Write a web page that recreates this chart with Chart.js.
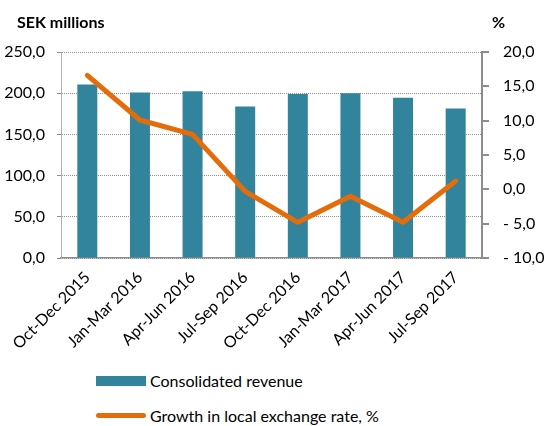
<!DOCTYPE html>
<html>
<head>
<meta charset="utf-8">
<script src="https://cdn.jsdelivr.net/npm/chart.js@4/dist/chart.umd.min.js"></script>
<style>
    body { margin: 0; background: #fff; font-family: Lato, sans-serif; }
    #wrap { position: relative; width: 546px; height: 426px; }
    #chart { position: absolute; left: 0; top: 0; }
    .axis-title { position: absolute; top: 12px; font-weight: bold; font-size: 16px; color: #000; }
    .legend-row { position: absolute; left: 96px; font-size: 16px; color: #000; display: flex; align-items: center; }
    .swatch-bar { width: 50px; height: 10px; background: #31849b; margin-right: 4px; }
    .swatch-line { width: 50px; height: 5px; border-radius: 3px; background: #e46c0a; margin-right: 4px; }
</style>
</head>
<body>
<div id="wrap">
    <canvas id="chart" width="546" height="360"></canvas>
    <div class="axis-title" style="left:17px;">SEK millions</div>
    <div class="axis-title" style="left:492px;">%</div>
    <div class="legend-row" style="top:371px;"><div class="swatch-bar"></div>Consolidated revenue</div>
    <div class="legend-row" style="top:406px;"><div class="swatch-line"></div>Growth in local exchange rate, %</div>
</div>
<script>
var quarters = ['Oct-Dec 2015', 'Jan-Mar 2016', 'Apr-Jun 2016', 'Jul-Sep 2016',
    'Oct-Dec 2016', 'Jan-Mar 2017', 'Apr-Jun 2017', 'Jul-Sep 2017'];
var revenue = [210.5, 201, 202.5, 184, 199, 200, 194.5, 181.5];
var growth = [16.6, 10.1, 8.0, -0.3, -4.8, -1.0, -4.8, 1.2];

function fmt(v) {
    var s = Math.abs(v).toFixed(1).replace('.', ',');
    return v < 0 ? '- ' + s : s;
}

var ctx = document.getElementById('chart').getContext('2d');
var chart = new Chart(ctx, {
    type: 'bar',
    data: {
        labels: quarters,
        datasets: [
            {
                type: 'line',
                label: 'Growth in local exchange rate, %',
                data: growth,
                yAxisID: 'y2',
                borderColor: '#e46c0a',
                borderWidth: 5,
                borderCapStyle: 'round',
                borderJoinStyle: 'round',
                pointRadius: 0,
                tension: 0,
                order: 0
            },
            {
                label: 'Consolidated revenue',
                data: revenue,
                yAxisID: 'y',
                backgroundColor: '#31849b',
                barPercentage: 0.38,
                categoryPercentage: 1,
                order: 1
            }
        ]
    },
    options: {
        responsive: false,
        animation: false,
        layout: { padding: { top: 52, left: 0, right: 0, bottom: 0 } },
        plugins: { legend: { display: false }, tooltip: { enabled: false } },
        scales: {
            x: {
                grid: { display: false },
                border: { color: '#8c8c8c', width: 1.5 },
                ticks: {
                    color: '#000', font: { family: 'Lato', size: 16 },
                    minRotation: 45, maxRotation: 45, padding: 2
                },
                afterFit: function (s) { s.height = 102; }
            },
            y: {
                position: 'left',
                min: 0, max: 250,
                ticks: {
                    stepSize: 50, color: '#000', font: { family: 'Lato', size: 16 },
                    padding: 12, callback: function (v) { return fmt(v); }
                },
                grid: { color: '#909090', tickLength: 4, lineWidth: 1 },
                border: { color: '#b0b0b0', width: 1, dash: [1, 1] },
                afterFit: function (s) { s.width = 61; }
            },
            y2: {
                position: 'right',
                min: -10, max: 20,
                ticks: {
                    stepSize: 5, color: '#000', font: { family: 'Lato', size: 16 },
                    padding: 14, callback: function (v) { return fmt(v); }
                },
                grid: { drawOnChartArea: false, color: '#8c8c8c', tickLength: 7, lineWidth: 2 },
                border: { color: '#8c8c8c', width: 2 },
                afterFit: function (s) { s.width = 64; }
            }
        }
    }
});
</script>
</body>
</html>
